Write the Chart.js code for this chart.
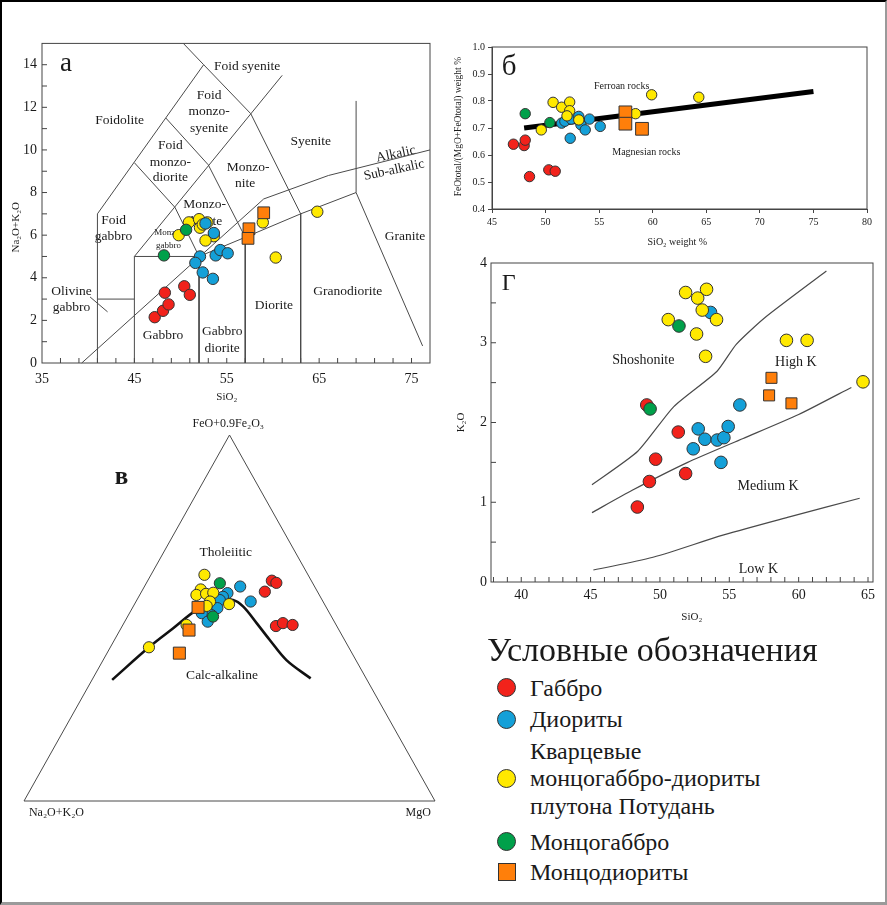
<!DOCTYPE html>
<html>
<head>
<meta charset="utf-8">
<script src="https://cdn.jsdelivr.net/npm/chart.js@4.4.0/dist/chart.umd.min.js"></script>
<style>
  body { margin: 0; background: #fff; }
  #page { position: relative; width: 887px; height: 905px; overflow: hidden; background: #fff;
          font-family: "Liberation Serif", "Times New Roman", serif; color: #1a1a1a; }
  #page canvas { position: absolute; }
  #edge { position: absolute; left: 0; top: 0; width: 887px; height: 905px; box-sizing: border-box;
          border-left: 2px solid #000; border-top: 2px solid #000;
          border-right: 2px solid #9a9a9a; border-bottom: 3px solid #9a9a9a; pointer-events: none; }
  .lg { position: absolute; white-space: nowrap; line-height: 28px; font-size: 24px; }
  .mk { position: absolute; box-sizing: border-box; border: 1px solid #333; }
</style>
</head>
<body>
<div id="page">
  <canvas id="tas" width="445" height="380" style="left:0;top:30px"></canvas>
  <canvas id="fe" width="447" height="225" style="left:440px;top:30px"></canvas>
  <canvas id="k2o" width="447" height="375" style="left:440px;top:250px"></canvas>
  <canvas id="afm" width="450" height="430" style="left:0;top:410px"></canvas>
  <div id="legend"></div>
  <div id="edge"></div>
</div>
<script>
// ---- а: TAS, SiO2 vs Na2O+K2O ----
var tasGabbroSi = [47.2, 48.1, 48.7, 48.3, 50.4, 51.0];
var tasGabbroAlk = [2.15, 2.45, 2.75, 3.3, 3.6, 3.2];
var tasDioriteSi = [52.7, 53.6, 52.1, 51.6, 52.4, 53.5, 53.8, 54.3, 55.1];
var tasDioriteAlk = [6.55, 6.1, 5.0, 4.7, 4.25, 3.95, 5.05, 5.3, 5.15];
var tasQuartzSi = [49.8, 50.9, 52.0, 52.1, 52.9, 53.6, 52.7, 52.4, 58.9, 64.8, 60.3];
var tasQuartzAlk = [6.0, 6.6, 6.75, 6.35, 6.6, 5.95, 5.75, 6.5, 6.6, 7.1, 4.95];
var tasMonzogabbroSi = [50.6, 48.2];
var tasMonzogabbroAlk = [6.25, 5.05];
var tasMonzodioriteSi = [59.0, 57.4, 57.3];
var tasMonzodioriteAlk = [7.05, 6.3, 5.85];

// field boundaries (Middlemost, plutonic)
var tasLineFoidolite = [[41, 0], [41, 7], [52.5, 14], [50.3, 15]];
var tasLineFoidSyenite = [[52.5, 14], [57.6, 11.7], [63, 7], [63, 0]];
var tasLineMonzo = [[45, 0], [45, 5], [61, 13.5]];
var tasLineGabbro = [[45, 9.4], [49.4, 7.3], [52, 5], [52, 0]];
var tasLineDiorite = [[48.4, 11.5], [53, 9.3], [57, 5.9], [57, 0]];
var tasLineBase = [[45, 5], [52, 5], [57, 5.9], [63, 7], [69, 8], [76.2, 0.8]];
var tasLineOlivine = [[41, 3], [45, 3]];
var tasLineGranite = [[69, 8], [69, 12.3]];
var tasLinePointer = [[40.2, 3.1], [42.1, 2.4]];
var tasLineAlkalic = [[39.3, 0], [59, 7.7], [66, 8.8], [77, 10]];

// ---- б: SiO2 vs FeOtotal/(MgO+FeOtotal) ----
var feGabbroSi = [47.0, 48.0, 48.1, 48.5, 50.3, 50.9];
var feGabbroF = [0.64, 0.635, 0.655, 0.52, 0.545, 0.54];
var feDioriteSi = [51.5, 51.8, 52.4, 53.1, 53.3, 53.7, 54.1, 55.1, 52.3];
var feDioriteF = [0.718, 0.725, 0.733, 0.743, 0.712, 0.693, 0.733, 0.706, 0.662];
var feQuartzSi = [49.6, 50.7, 51.5, 52.25, 52.25, 52.0, 53.1, 58.4, 59.9, 64.3];
var feQuartzF = [0.693, 0.795, 0.777, 0.796, 0.764, 0.745, 0.73, 0.753, 0.823, 0.814];
var feMonzogabbroSi = [48.1, 50.4];
var feMonzogabbroF = [0.753, 0.72];
var feMonzodioriteSi = [57.45, 57.45, 59.0];
var feMonzodioriteF = [0.758, 0.716, 0.697];
var feLineFerroan = [[48, 0.70], [75, 0.835]];

// ---- Г: SiO2 vs K2O ----
var kGabbroSi = [49.05, 51.32, 49.69, 49.24, 51.85, 48.37];
var kGabbroK = [2.22, 1.88, 1.54, 1.26, 1.36, 0.94];
var kDioriteSi = [53.65, 55.76, 52.76, 53.24, 54.13, 54.61, 54.92, 52.4, 54.4];
var kDioriteK = [3.38, 2.22, 1.92, 1.79, 1.78, 1.81, 1.95, 1.67, 1.50];
var kQuartzSi = [51.85, 53.36, 52.72, 53.05, 54.08, 50.6, 52.64, 53.29, 59.12, 60.61, 64.64];
var kQuartzK = [3.63, 3.67, 3.56, 3.41, 3.29, 3.29, 3.11, 2.83, 3.03, 3.03, 2.51];
var kMonzogabbroSi = [51.37, 49.29];
var kMonzogabbroK = [3.21, 2.17];
var kMonzodioriteSi = [58.04, 57.87, 59.48];
var kMonzodioriteK = [2.56, 2.34, 2.24];
var kLineShoshonite = [[45.1, 1.22], [48.4, 1.64], [51, 2.2], [54.1, 2.64], [55.5, 2.98], [57.6, 3.32], [62, 3.9]];
var kLineHighK = [[45.1, 0.87], [48, 1.15], [52, 1.5], [56, 1.8], [60, 2.1], [63.8, 2.44]];
var kLineLowK = [[45.2, 0.15], [49.5, 0.31], [54.6, 0.59], [59.4, 0.82], [64.4, 1.05]];

// ---- в: AFM, FeO+0.9Fe2O3 (F) and MgO (M), % ----
var afmGabbroF = [60.2, 59.6, 57.2, 47.8, 48.6, 48.1];
var afmGabbroM = [30.2, 31.6, 30.0, 37.4, 38.7, 41.3];
var afmDioriteF = [58.6, 54.5, 56.8, 55.8, 54.9, 52.7, 50.8, 51.3, 49.0];
var afmDioriteM = [23.3, 27.9, 21.1, 20.5, 20.2, 20.7, 20.2, 17.6, 20.2];
var afmQuartzF = [61.8, 57.8, 56.3, 56.6, 56.9, 54.5, 53.3, 53.8, 48.1, 42.0];
var afmQuartzM = [13.0, 14.1, 13.8, 16.0, 17.6, 18.0, 17.8, 23.0, 15.5, 9.4];
var afmMonzogabbroF = [59.5, 50.4];
var afmMonzogabbroM = [17.9, 20.8];
var afmMonzodioriteF = [52.9, 46.7, 40.4];
var afmMonzodioriteM = [15.9, 16.8, 17.6];
var afmCurveF = [33.1, 42.2, 47.2, 52.2, 54.9, 54.9, 53.1, 48.6, 44.0, 38.5, 33.5];
var afmCurveM = [4.9, 9.5, 12.7, 15.9, 19.4, 23.4, 26.8, 32.3, 37.8, 44.6, 53.0];
var afmCornerF = [0, 100, 0, 0];
var afmCornerM = [0, 0, 100, 0];

// legend
var legendNames = ['Габбро', 'Диориты', ['Кварцевые', 'монцогаббро-диориты', 'плутона Потудань'], 'Монцогаббро', 'Монцодиориты'];
var legendColors = ['#f2221b', '#14a0d8', '#ffe900', '#00a04a', '#ff7f0a'];
var legendShapes = ['circle', 'circle', 'circle', 'circle', 'rect'];

var RED = legendColors[0], BLUE = legendColors[1], YEL = legendColors[2], GRN = legendColors[3], ORG = legendColors[4];
var SERIF = '"Liberation Serif", "Times New Roman", serif';
Chart.defaults.font.family = SERIF;
Chart.defaults.color = '#1a1a1a';

function pts(xs, ys) { return xs.map(function (v, i) { return { x: v, y: ys[i] }; }); }
function pairs(list) { return list.map(function (p) { return { x: p[0], y: p[1] }; }); }
function afm(F, M) { return F.map(function (f, i) { return { x: (M[i] + f / 2) / 100, y: f / 100 }; }); }

function marks(data, color, style, r, order) {
  return { data: data, pointStyle: style, pointRadius: r, pointHoverRadius: r,
    backgroundColor: color, borderColor: '#333', borderWidth: 1, showLine: false, order: order };
}
function line(data, w, color, tension) {
  return { data: data, showLine: true, borderColor: color || '#4a4a4a', borderWidth: w || 1,
    pointRadius: 0, pointHoverRadius: 0, fill: false, tension: tension || 0, order: 20, clip: false };
}

function notes(items) {
  return { id: 'notes', beforeDatasetsDraw: function (chart) {
    var ctx = chart.ctx, sx = chart.scales.x, sy = chart.scales.y;
    ctx.save();
    items.forEach(function (n) {
      ctx.font = (n.b ? 'bold ' : '') + n.s + 'px ' + SERIF;
      ctx.fillStyle = '#1a1a1a';
      ctx.textAlign = 'center';
      ctx.textBaseline = 'middle';
      ctx.save();
      ctx.translate(sx.getPixelForValue(n.x), sy.getPixelForValue(n.y));
      if (n.r) ctx.rotate(n.r * Math.PI / 180);
      ctx.fillText(n.t, 0, 0);
      ctx.restore();
    });
    ctx.restore();
  } };
}

function frame(inward) {
  return { id: 'frame', beforeDatasetsDraw: function (chart) {
    var a = chart.chartArea, ctx = chart.ctx;
    ctx.save();
    ctx.strokeStyle = '#444';
    ctx.lineWidth = 1;
    ctx.strokeRect(a.left, a.top, a.right - a.left, a.bottom - a.top);
    if (inward) {
      ctx.beginPath();
      chart.scales.x.ticks.forEach(function (t) {
        var p = chart.scales.x.getPixelForValue(t.value);
        if (p <= a.left + 1 || p >= a.right - 1) return;
        ctx.moveTo(p, a.bottom); ctx.lineTo(p, a.bottom - inward);
      });
      chart.scales.y.ticks.forEach(function (t) {
        var p = chart.scales.y.getPixelForValue(t.value);
        if (p >= a.bottom - 1 || p <= a.top + 1) return;
        ctx.moveTo(a.left, p); ctx.lineTo(a.left + inward, p);
      });
      ctx.stroke();
    }
    ctx.restore();
  } };
}

function axis(min, max, step, size, pad, fixed, label, outward) {
  return { type: 'linear', min: min, max: max,
    grid: outward ? { display: true, drawOnChartArea: false, tickLength: 4, color: '#444' }
                  : { display: false, drawTicks: false },
    border: { display: !!outward, color: '#444' },
    ticks: { stepSize: step, autoSkip: false, includeBounds: false, maxRotation: 0, padding: pad,
      font: { size: size }, callback: label },
    afterFit: function (s) { if (s.isHorizontal()) s.height = fixed; else s.width = fixed; } };
}

function baseOptions(padding, scales) {
  return { responsive: false, animation: false, events: [], layout: { padding: padding },
    plugins: { legend: { display: false }, tooltip: { enabled: false } }, scales: scales };
}

// ---- а ----
new Chart(document.getElementById('tas'), {
  type: 'scatter',
  data: { datasets: [
    marks(pts(tasMonzodioriteSi, tasMonzodioriteAlk), ORG, 'rect', 8.3, 1),
    marks(pts(tasMonzogabbroSi, tasMonzogabbroAlk), GRN, 'circle', 5.7, 2),
    marks(pts(tasDioriteSi, tasDioriteAlk), BLUE, 'circle', 5.7, 3),
    marks(pts(tasGabbroSi, tasGabbroAlk), RED, 'circle', 5.7, 4),
    marks(pts(tasQuartzSi, tasQuartzAlk), YEL, 'circle', 5.7, 5),
    line(pairs(tasLineFoidolite)), line(pairs(tasLineFoidSyenite)), line(pairs(tasLineMonzo)),
    line(pairs(tasLineGabbro)), line(pairs(tasLineDiorite)), line(pairs(tasLineBase)),
    line(pairs(tasLineOlivine)), line(pairs(tasLineGranite)), line(pairs(tasLinePointer)),
    line(pairs(tasLineAlkalic))
  ] },
  options: baseOptions({ top: 12, right: 15 }, {
    x: axis(35, 77, 2, 14, 8, 47, function (v) { return (v - 35) % 10 === 0 ? String(v) : ''; }),
    y: axis(0, 15, 1, 14, 5, 42, function (v) { return v % 2 === 0 ? String(v) : ''; })
  }),
  plugins: [frame(5), notes([
    { t: 'a', x: 37.6, y: 14.05, s: 27 },
    { t: 'Foid syenite', x: 57.2, y: 13.9, s: 13.5 },
    { t: 'Foidolite', x: 43.4, y: 11.4, s: 13.5 },
    { t: 'Foid', x: 53.1, y: 12.57, s: 13.5 }, { t: 'monzo-', x: 53.1, y: 11.79, s: 13.5 }, { t: 'syenite', x: 53.1, y: 11.0, s: 13.5 },
    { t: 'Foid', x: 48.9, y: 10.23, s: 13.5 }, { t: 'monzo-', x: 48.9, y: 9.41, s: 13.5 }, { t: 'diorite', x: 48.9, y: 8.71, s: 13.5 },
    { t: 'Monzo-', x: 57.3, y: 9.2, s: 13.5 }, { t: 'nite', x: 57.0, y: 8.43, s: 13.5 },
    { t: 'Syenite', x: 64.1, y: 10.39, s: 13.5 },
    { t: 'Alkalic', x: 73.3, y: 9.8, s: 13.5, r: -12 },
    { t: 'Sub-alkalic', x: 73.1, y: 9.05, s: 13.5, r: -12 },
    { t: 'Monzo-', x: 52.6, y: 7.43, s: 13.5 }, { t: 'diorite', x: 52.6, y: 6.66, s: 13.5 },
    { t: 'Foid', x: 42.75, y: 6.71, s: 13.5 }, { t: 'gabbro', x: 42.75, y: 5.93, s: 13.5 },
    { t: 'Monzo-', x: 48.7, y: 6.1, s: 9 }, { t: 'gabbro', x: 48.7, y: 5.5, s: 9 },
    { t: 'Olivine', x: 38.2, y: 3.38, s: 13.5 }, { t: 'gabbro', x: 38.2, y: 2.6, s: 13.5 },
    { t: 'Gabbro', x: 48.1, y: 1.31, s: 13.5 },
    { t: 'Gabbro', x: 54.5, y: 1.46, s: 13.5 }, { t: 'diorite', x: 54.5, y: 0.69, s: 13.5 },
    { t: 'Diorite', x: 60.1, y: 2.68, s: 13.5 },
    { t: 'Granodiorite', x: 68.1, y: 3.38, s: 13.5 },
    { t: 'Granite', x: 74.3, y: 5.93, s: 13.5 },
    { t: 'SiO₂', x: 55, y: -1.59, s: 11 },
    { t: 'Na₂O+K₂O', x: 32.2, y: 6.37, s: 11, r: -90 }
  ])]
});

// ---- б ----
new Chart(document.getElementById('fe'), {
  type: 'scatter',
  data: { datasets: [
    marks(pts(feMonzodioriteSi, feMonzodioriteF), ORG, 'rect', 9, 1),
    marks(pts(feQuartzSi, feQuartzF), YEL, 'circle', 5.2, 2),
    marks(pts(feMonzogabbroSi, feMonzogabbroF), GRN, 'circle', 5.2, 3),
    marks(pts(feDioriteSi, feDioriteF), BLUE, 'circle', 5.2, 4),
    marks(pts(feGabbroSi, feGabbroF), RED, 'circle', 5.2, 5),
    line(pairs(feLineFerroan), 5, '#000')
  ] },
  options: baseOptions({ top: 17, right: 20 }, {
    x: axis(45, 80, 5, 10, 3, 46, function (v) { return String(v); }, true),
    y: axis(0.4, 1.0, 0.1, 10, 3, 52, function (v) { return v.toFixed(1); }, true)
  }),
  plugins: [frame(0), notes([
    { t: 'б', x: 46.6, y: 0.925, s: 29 },
    { t: 'Ferroan rocks', x: 57.1, y: 0.854, s: 10 },
    { t: 'Magnesian rocks', x: 59.4, y: 0.609, s: 10 },
    { t: 'SiO₂ weight %', x: 62.3, y: 0.278, s: 10 },
    { t: 'FeOtotal/(MgO+FeOtotal) weight %', x: 41.9, y: 0.705, s: 9.5, r: -90 }
  ])]
});

// ---- Г ----
new Chart(document.getElementById('k2o'), {
  type: 'scatter',
  data: { datasets: [
    marks(pts(kQuartzSi, kQuartzK), YEL, 'circle', 6.3, 1),
    marks(pts(kMonzogabbroSi, kMonzogabbroK), GRN, 'circle', 6.3, 2),
    marks(pts(kMonzodioriteSi, kMonzodioriteK), ORG, 'rect', 7.8, 3),
    marks(pts(kGabbroSi, kGabbroK), RED, 'circle', 6.3, 4),
    marks(pts(kDioriteSi, kDioriteK), BLUE, 'circle', 6.3, 5),
    line(pairs(kLineShoshonite), 1.2, '#4a4a4a', 0.2),
    line(pairs(kLineHighK), 1.2, '#4a4a4a', 0.2),
    line(pairs(kLineLowK), 1.2, '#4a4a4a', 0.3)
  ] },
  options: baseOptions({ top: 13, right: 14 }, {
    x: axis(37.82, 65.36, 1, 14, 5, 43, function (v) { return Math.abs(v % 5) < 1e-9 ? String(v) : ''; }),
    y: axis(0, 4, 0.5, 14, 4, 51, function (v) { return Number.isInteger(v) ? String(v) : ''; })
  }),
  plugins: [frame(5), notes([
    { t: 'Г', x: 39.1, y: 3.74, s: 24 },
    { t: 'Shoshonite', x: 48.8, y: 2.78, s: 14 },
    { t: 'High K', x: 59.8, y: 2.75, s: 14 },
    { t: 'Medium K', x: 57.8, y: 1.2, s: 14 },
    { t: 'Low K', x: 57.1, y: 0.16, s: 14 },
    { t: 'SiO₂', x: 52.3, y: -0.44, s: 11 },
    { t: 'K₂O', x: 35.7, y: 2.0, s: 11, r: -90 }
  ])]
});

// ---- в ----
new Chart(document.getElementById('afm'), {
  type: 'scatter',
  data: { datasets: [
    marks(afm(afmMonzodioriteF, afmMonzodioriteM), ORG, 'rect', 8.5, 1),
    marks(afm(afmQuartzF, afmQuartzM), YEL, 'circle', 5.6, 2),
    marks(afm(afmMonzogabbroF, afmMonzogabbroM), GRN, 'circle', 5.6, 3),
    marks(afm(afmDioriteF, afmDioriteM), BLUE, 'circle', 5.6, 4),
    marks(afm(afmGabbroF, afmGabbroM), RED, 'circle', 5.6, 5),
    line(afm(afmCornerF, afmCornerM), 1, '#4a4a4a'),
    line(afm(afmCurveF, afmCurveM), 2.6, '#111', 0.35)
  ] },
  options: baseOptions({ left: 24, right: 15, top: 25, bottom: 39 }, {
    x: { type: 'linear', min: 0, max: 1, display: false },
    y: { type: 'linear', min: 0, max: 1, display: false }
  }),
  plugins: [notes([
    { t: 'FeO+0.9Fe₂O₃', x: 0.497, y: 1.030, s: 12 },
    { t: 'Na₂O+K₂O', x: 0.079, y: -0.033, s: 12 },
    { t: 'MgO', x: 0.959, y: -0.033, s: 12 },
    { t: 'в', x: 0.237, y: 0.884, s: 25, b: true },
    { t: 'Tholeiitic', x: 0.491, y: 0.680, s: 13.5 },
    { t: 'Calc-alkaline', x: 0.482, y: 0.342, s: 13.5 }
  ])]
});

// ---- legend ----
(function () {
  var box = document.getElementById('legend');
  var page = document.getElementById('page');
  var head = document.createElement('div');
  head.className = 'lg';
  head.style.cssText = 'left:487px;top:629px;font-size:34px;line-height:42px;';
  head.textContent = 'Условные обозначения';
  page.insertBefore(head, box);
  var rowY = [687.7, 719, 778.3, 841.7, 872.3];
  legendNames.forEach(function (name, i) {
    var y = rowY[i];
    var m = document.createElement('div');
    m.className = 'mk';
    var d = legendShapes[i] === 'rect' ? 18 : 19;
    m.style.cssText = 'left:' + (506.7 - d / 2) + 'px;top:' + (y - d / 2) + 'px;width:' + d + 'px;height:' + d +
      'px;background:' + legendColors[i] + ';border-radius:' + (legendShapes[i] === 'rect' ? '0' : '50%') + ';';
    page.insertBefore(m, box);
    var lines = Array.isArray(name) ? name : [name];
    var off = (lines.length - 1) / 2;
    lines.forEach(function (txt, j) {
      var t = document.createElement('div');
      t.className = 'lg';
      var ly = y + (j - off) * 27.5;
      t.style.cssText = 'left:530px;top:' + (ly - 14) + 'px;';
      t.textContent = txt;
      page.insertBefore(t, box);
    });
  });
})();
</script>
</body>
</html>
